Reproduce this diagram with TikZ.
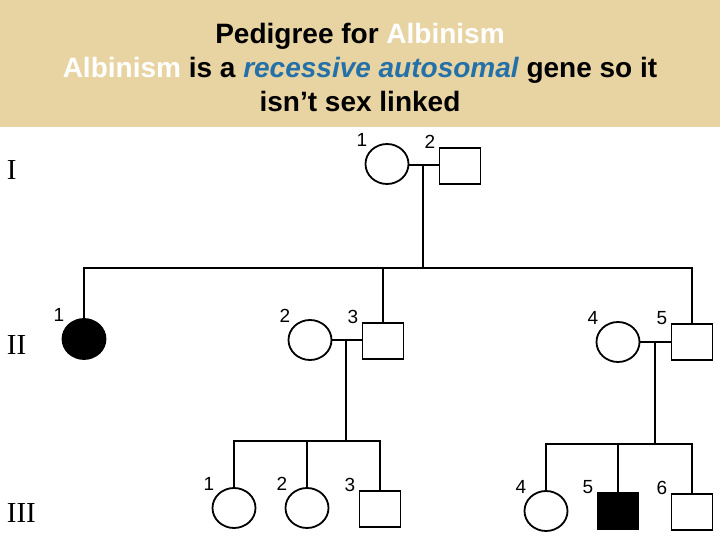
\documentclass[tikz,border=0pt]{standalone}
\usepackage{fontspec}
\setmainfont{Liberation Sans}
\newfontfamily\genfont{Liberation Serif}
\usepackage{xcolor}
\usetikzlibrary{shapes.geometric, positioning}
\definecolor{pdtan}{HTML}{E8D4A2}
\definecolor{pdblue}{HTML}{2470A8}

\begin{document}
\begin{tikzpicture}[
    x=1pt, y=-1pt,
    line width=1.8pt,
    female/.style={ellipse, draw, minimum width=43pt, minimum height=40pt, inner sep=0pt},
    male/.style={rectangle, draw, minimum width=41pt, minimum height=36pt, inner sep=0pt},
    affected/.style={fill=black},
    num/.style={font=\fontsize{19}{19}\selectfont, inner sep=0pt},
    fnum/.style={label={[num, xshift=-25pt, yshift=24pt]center:#1}},
    mnum/.style={label={[num, xshift=-30pt, yshift=24pt]center:#1}},
    gen/.style={font=\genfont\fontsize{29}{29}\selectfont, anchor=west, inner sep=0pt}
  ]
    % background and title band
    \fill[white] (0,0) rectangle (720,540);
    \fill[pdtan] (0,0) rectangle (720,127);
    \node[align=center, font=\bfseries\fontsize{28}{34}\selectfont] (title) at (360,67)
      {Pedigree for \textcolor{white}{Albinism}\\
       \textcolor{white}{Albinism} is a \textcolor{pdblue}{\itshape recessive autosomal} gene so it\\
       isn't sex linked};

    % generation labels
    \node[gen] (gI) at (6,170) {I};
    \node[gen] (gII) at (6,345) {II};
    \node[gen] (gIII) at (6,513) {III};

    % generation I
    \node[female, fnum=1] (I1) at (387,164) {};
    \node[male, mnum=2] (I2) at (460,166) {};
    \coordinate (m1) at (423,165);
    \coordinate (s1) at (423,268);
    \draw (I1.east |- m1) -- (I2.west |- m1);
    \draw (m1) -- (s1);

    % generation II
    \node[female, affected, fnum=1] (II1) at (84,339) {};
    \node[female, fnum=2] (II2) at (310,340) {};
    \node[male, mnum=3] (II3) at (383,341) {};
    \node[female, fnum=4] (II4) at (618,342) {};
    \node[male, mnum=5] (II5) at (692,342) {};
    \draw (II1.north) -- (II1.north |- s1) -- (II5.north |- s1) -- (II5.north);
    \draw (II3.north) -- (II3.north |- s1);
    \coordinate (m2) at (346,340);
    \coordinate (s2) at (346,441);
    \coordinate (m3) at (655,342);
    \coordinate (s3) at (655,444);
    \draw (II2.east |- m2) -- (II3.west |- m2);
    \draw (II4.east |- m3) -- (II5.west |- m3);
    \draw (m2) -- (s2);
    \draw (m3) -- (s3);

    % generation III
    \node[female, fnum=1] (III1) at (234,508) {};
    \node[female, fnum=2] (III2) at (307,508) {};
    \node[male, mnum=3] (III3) at (380,509) {};
    \node[female, fnum=4] (III4) at (546,511) {};
    \node[male, affected, mnum=5] (III5) at (618,511) {};
    \node[male, mnum=6] (III6) at (692,512) {};
    \draw (III1.north) -- (III1.north |- s2) -- (III3.north |- s2) -- (III3.north);
    \draw (III2.north) -- (III2.north |- s2);
    \draw (III4.north) -- (III4.north |- s3) -- (III6.north |- s3) -- (III6.north);
    \draw (III5.north) -- (III5.north |- s3);
  \end{tikzpicture}
\end{document}
